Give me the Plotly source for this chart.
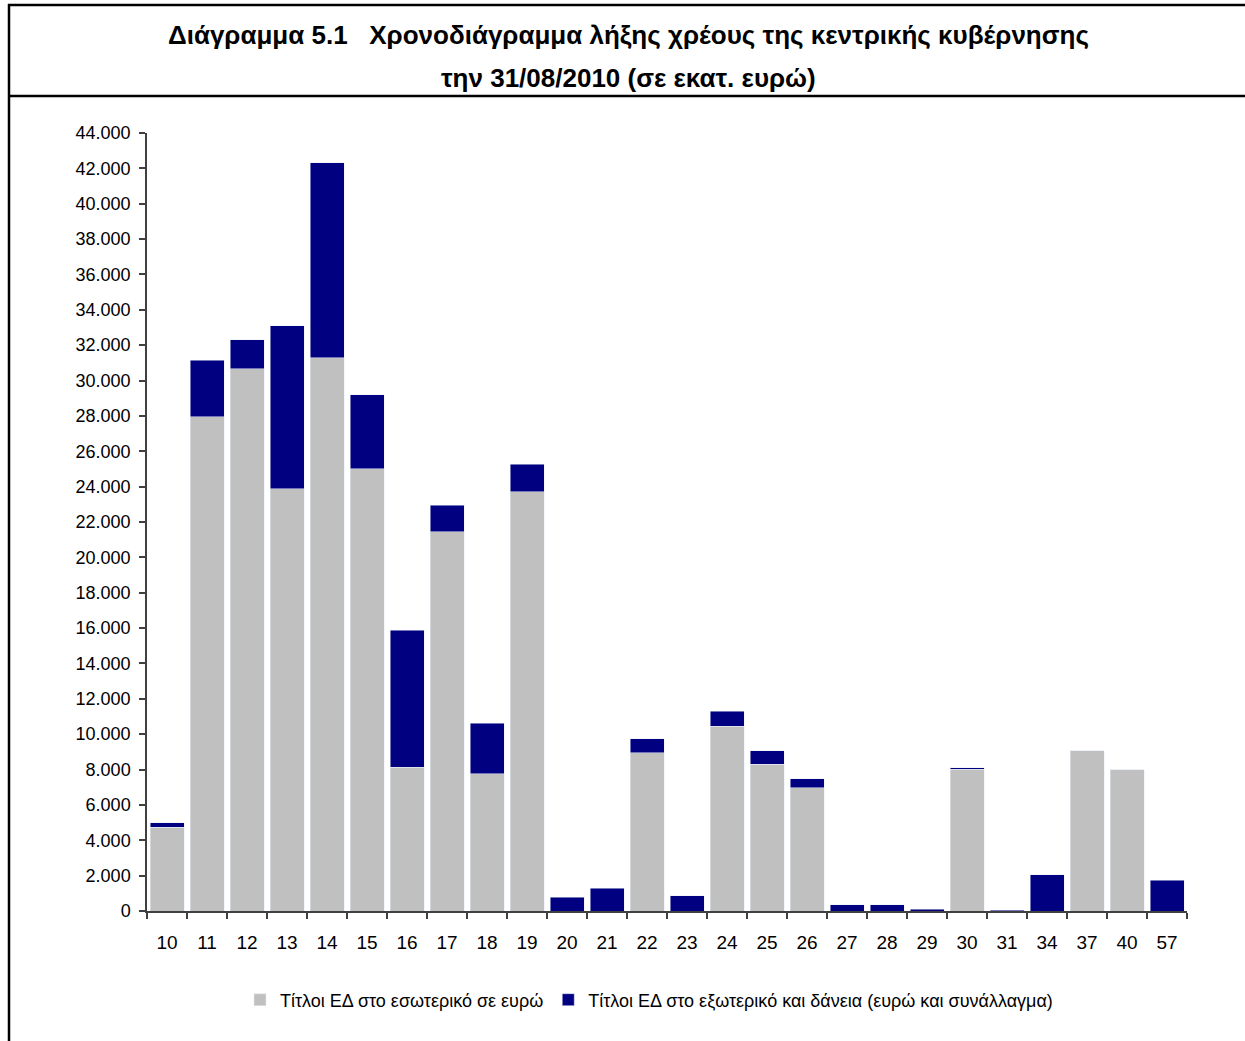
import plotly.graph_objects as go

years = ["10", "11", "12", "13", "14", "15", "16", "17", "18", "19", "20", "21", "22",
         "23", "24", "25", "26", "27", "28", "29", "30", "31", "34", "37", "40", "57"]
domestic = [4750, 27940, 30660, 23870, 31280, 25000, 8140, 21440, 7750, 23700, 0, 0, 8940,
            0, 10460, 8310, 6960, 0, 0, 0, 8030, 0, 0, 9050, 7980, 0]
foreign = [230, 3220, 1640, 9220, 11030, 4190, 7750, 1520, 2880, 1580, 790, 1300, 790,
           850, 850, 740, 510, 340, 340, 110, 80, 50, 2040, 0, 0, 1750]
series_names = ["Τίτλοι ΕΔ στο εσωτερικό σε ευρώ",
                "Τίτλοι ΕΔ στο εξωτερικό και δάνεια (ευρώ και συνάλλαγμα)"]
title1 = "Διάγραμμα 5.1   Χρονοδιάγραμμα λήξης χρέους της κεντρικής κυβέρνησης"
title2 = "την 31/08/2010 (σε εκατ. ευρώ)"

FONT = "Liberation Sans, Arial, sans-serif"

fig = go.Figure()
fig.add_trace(go.Bar(x=years, y=domestic, name=series_names[0], marker_color="#C0C0C0"))
fig.add_trace(go.Bar(x=years, y=foreign, name=series_names[1], marker_color="#000080"))

W, H = 1245, 1041
L, R, T, B = 147, 1187, 133, 911
pw, ph = R - L, B - T

def px_x(x):
    return (x - L) / pw

def px_y(y):
    return (B - y) / ph

fig.update_layout(
    width=W, height=H,
    margin=dict(l=L, r=W - R, t=T, b=H - B, pad=0),
    paper_bgcolor="white", plot_bgcolor="white",
    barmode="stack", bargap=0.15,
    separators=",.",
    font=dict(family=FONT, size=18, color="black"),
    showlegend=True,
    legend=dict(orientation="h", x=px_x(649), xanchor="center", y=px_y(1000), yanchor="middle",
                font=dict(family=FONT, size=18), itemwidth=30, traceorder="normal",
                tracegroupgap=0),
    xaxis=dict(type="category", showline=True, linecolor="#404040", linewidth=1.5,
               ticks="outside", tickson="boundaries", ticklen=6, tickcolor="#404040",
               tickwidth=1.5, showgrid=False, tickfont=dict(family=FONT, size=19),
               ticklabelstandoff=13, range=[-0.5, len(years) - 0.5]),
    yaxis=dict(range=[0, 44000], dtick=2000, tickformat=",d", showline=True,
               linecolor="#404040", linewidth=1.5, ticks="outside", ticklen=6,
               tickcolor="#404040", tickwidth=1.5, showgrid=False, zeroline=False,
               ticklabelstandoff=5, tickfont=dict(family=FONT, size=18)),
)

fig.add_annotation(text="<b>" + title1 + "</b>", xref="paper", yref="paper",
                   x=px_x(628), y=px_y(35), xanchor="center", yanchor="middle",
                   showarrow=False, font=dict(family=FONT, size=26, color="black"))
fig.add_annotation(text="<b>" + title2 + "</b>", xref="paper", yref="paper",
                   x=px_x(628), y=px_y(78), xanchor="center", yanchor="middle",
                   showarrow=False, font=dict(family=FONT, size=26, color="black"))

line = dict(color="black", width=2.5)
fig.add_shape(type="line", xref="paper", yref="paper", x0=px_x(8), x1=px_x(1250),
              y0=px_y(5), y1=px_y(5), line=line)
fig.add_shape(type="line", xref="paper", yref="paper", x0=px_x(8), x1=px_x(1250),
              y0=px_y(96), y1=px_y(96), line=line)
fig.add_shape(type="line", xref="paper", yref="paper", x0=px_x(9), x1=px_x(9),
              y0=px_y(4), y1=px_y(1045), line=line)

fig.write_html("out.html", config={"displayModeBar": False},
               post_script="document.body.style.margin='0px';")
